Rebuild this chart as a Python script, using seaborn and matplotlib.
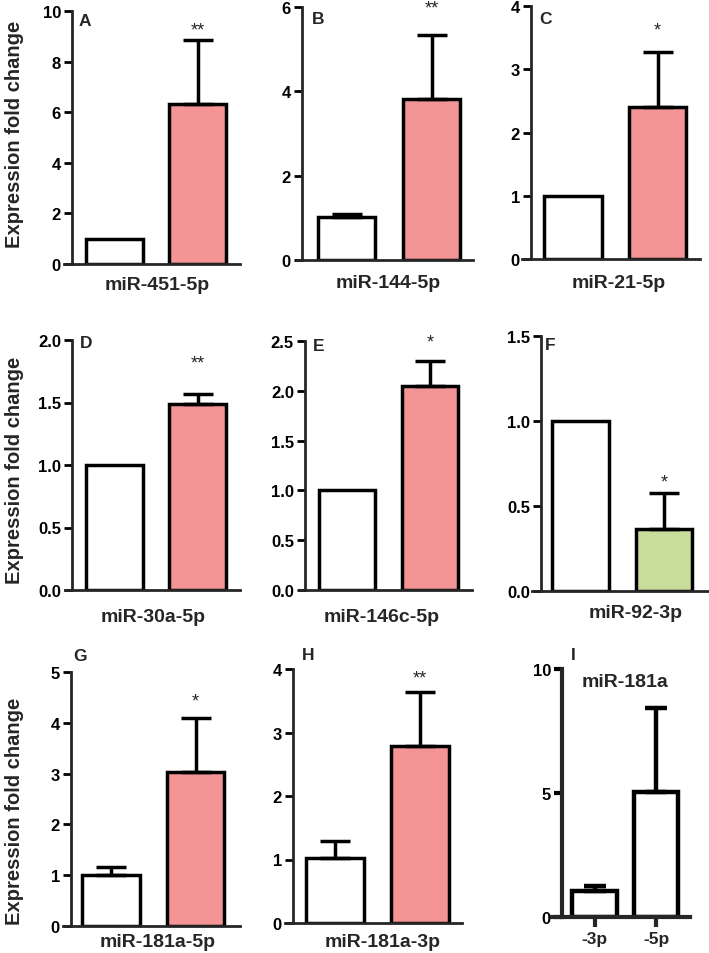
import seaborn as sns
import matplotlib.pyplot as plt

# data: control (white) vs case bar for each miRNA panel
panel_ids = ['A', 'B', 'C', 'D', 'E', 'F', 'G', 'H', 'I']
mirnas = ['miR-451-5p', 'miR-144-5p', 'miR-21-5p',
          'miR-30a-5p', 'miR-146c-5p', 'miR-92-3p',
          'miR-181a-5p', 'miR-181a-3p', 'miR-181a']
means = [[1.0, 6.33], [1.03, 3.83], [1.0, 2.40],
         [1.0, 1.49], [1.0, 2.05], [1.0, 0.365],
         [1.0, 3.04], [1.03, 2.78], [1.03, 5.04]]
errs = [[0, 2.53], [0.07, 1.51], [0, 0.87],
        [0, 0.08], [0, 0.25], [0, 0.21],
        [0.17, 1.06], [0.26, 0.86], [0.22, 3.4]]
stars = ['**', '**', '*', '**', '*', '*', '*', '**', '']
y_max = [10, 6, 4, 2.0, 2.5, 1.5, 5, 4, 10]
y_ticks = [[0, 2, 4, 6, 8, 10], [0, 2, 4, 6], [0, 1, 2, 3, 4],
           [0, 0.5, 1.0, 1.5, 2.0], [0, 0.5, 1.0, 1.5, 2.0, 2.5], [0, 0.5, 1.0, 1.5],
           [0, 1, 2, 3, 4, 5], [0, 1, 2, 3, 4], [0, 5, 10]]
i_ticklabels = ['-3p', '-5p']

WHITE = '#ffffff'
PINK = '#f49494'
GREEN = '#c8dc9c'
bar_colors = [[WHITE, PINK]] * 5 + [[WHITE, GREEN]] + [[WHITE, PINK]] * 2 + [[WHITE, WHITE]]

# layout in pixels: x-axis start, y-axis x, x-axis end, top, zero line, bar centres
layout = [
    (64, 72, 240, 12, 265, 114.5, 197.5),
    (297, 302, 473, 8, 261, 346.5, 431.5),
    (522, 531, 700, 7, 260, 573, 657.5),
    (65, 72, 240, 341, 591, 114.5, 197.5),
    (299, 305, 472, 342, 591, 347, 430),
    (532, 541, 709, 337, 592, 580.5, 664),
    (63, 71, 240, 673, 927, 111, 195.5),
    (285, 293, 462, 670, 924, 335, 420),
    (552, 562, 690, 670, 918, 594.5, 656),
]
letter_pos = [(85, 22), (318, 20), (545, 20), (86, 343), (319, 347), (550, 345),
              (80, 657), (308, 655), (573, 655)]
star_y = [9.25, 5.97, 3.62, 1.82, 2.49, 0.64, 4.43, 3.86, None]
xlabel_pos = [(157, 285), (388, 283), (619, 283), (153, 618), (382, 618), (636, 614),
              (158, 943), (383, 943)]
ylabel_y = [134, 470, 811]

W, H = 709, 954
sns.set_style('ticks')
plt.rcParams['font.family'] = ['Liberation Sans', 'DejaVu Sans']
plt.rcParams['font.weight'] = 'bold'

fig = plt.figure(figsize=(W / 100, H / 100), dpi=100)

for k in range(9):
    xs, ya, xe, yt, yb, c0, c1 = layout[k]
    thick = k == 8
    lw = 3.2 if thick else 2.5
    slw = 3.0 if thick else 2.0
    ax = fig.add_axes([xs / W, 1 - yb / H, (xe - xs) / W, (yb - yt) / H])
    sns.barplot(x=[0, 1], y=means[k], hue=[0, 1], palette=bar_colors[k], legend=False,
                width=0.68 if not thick else 0.72, edgecolor='black', linewidth=lw,
                saturation=1, ax=ax, zorder=2)
    # upward-only SEM bars, skipped where the error is zero
    for j in range(2):
        if errs[k][j] > 0:
            ax.errorbar([j], [means[k][j]], yerr=[[0], [errs[k][j]]], fmt='none',
                        ecolor='black', elinewidth=lw, capsize=10.5 if not thick else 8,
                        capthick=lw, zorder=3)
    d = c1 - c0
    ax.set_xlim(-(c0 - xs) / d, 1 + (xe - c1) / d)
    ax.set_ylim(0, y_max[k])
    ax.set_yticks(y_ticks[k])
    if k in (3, 4, 5):
        ax.set_yticklabels([f'{v:.1f}' for v in y_ticks[k]])
    else:
        ax.set_yticklabels([f'{v:g}' for v in y_ticks[k]])
    sns.despine(ax=ax)
    ax.spines['left'].set_position(('axes', (ya - xs) / (xe - xs)))
    for s in ('left', 'bottom'):
        ax.spines[s].set_linewidth(slw)
    ax.tick_params(axis='y', direction='out', length=6, width=slw, labelsize=12,
                   pad=2, colors='black')
    ax.set_xlabel('')
    ax.set_ylabel('')
    if thick:
        ax.set_xticks([0, 1])
        ax.set_xticklabels(i_ticklabels, fontsize=12.5)
        ax.tick_params(axis='x', direction='out', length=7, width=3.0, pad=3)
        ax.text(0.5, 9.5, mirnas[k], ha='center', va='center', fontsize=14)
    else:
        ax.set_xticks([])
        fig.text(xlabel_pos[k][0] / W, 1 - xlabel_pos[k][1] / H, mirnas[k],
                 ha='center', va='center', fontsize=14)
        ax.text(1, star_y[k], stars[k], ha='center', va='center', fontsize=13,
                fontweight='normal')
    lx, ly = letter_pos[k]
    fig.text(lx / W, 1 - ly / H, panel_ids[k], ha='center', va='center', fontsize=12.5)

for yc in ylabel_y:
    fig.text(15 / W, 1 - yc / H, 'Expression fold change', rotation=90,
             ha='center', va='center', fontsize=14.5)

fig.savefig('out.png', dpi=100)
